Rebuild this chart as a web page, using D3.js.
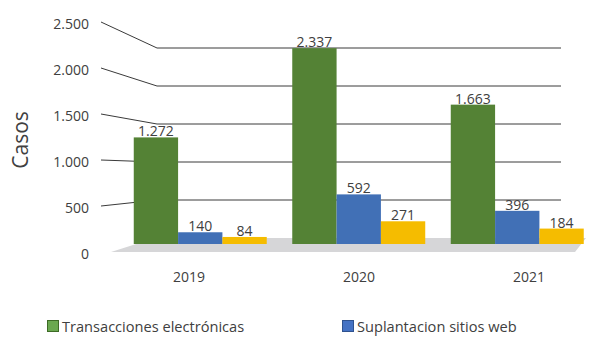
<!DOCTYPE html>
<html>
<head>
  <meta charset="utf-8">
  <script src="https://d3js.org/d3.v7.min.js"></script>
  <style>
    html, body {
      margin: 0px;
      padding: 0px;
      background: #fff;
      font-family: "Open Sans", "Noto Sans", Arial, sans-serif;
    }
    #chart {
      width: 604px;
      height: 350px;
      position: relative;
    }
    .tick, .dataLabel, .catLabel {
      font-size: 14px;
      fill: #404040;
    }
    .legendText {
      font-size: 14.6px;
      fill: #404040;
    }
    .axisTitle {
      font-size: 21px;
      fill: #404040;
    }
  </style>
</head>
<body>
  <div id="chart"></div>
  <script>
    /*
    DATA
    */
    const years = ["2019", "2020", "2021"];
    const seriesNames = ["Transacciones electrónicas", "Suplantacion sitios web", "Otros"];
    const transacciones = [1272, 2337, 1663];
    const suplantacion = [140, 592, 396];
    const otros = [84, 271, 184];
    const tickValues = [0, 500, 1000, 1500, 2000, 2500];
    const legendNames = ["Transacciones electrónicas", "Suplantacion sitios web"];

    const colors = ["#548235", "#4170b6", "#f5bc00"];
    const legendFill = ["#6aa84f", "#4472c4"];
    const legendStroke = ["#3d6b26", "#2f528f"];

    const width = 604;
    const height = 350;

    const svg = d3.select("#chart")
      .append("svg")
      .attr("width", width)
      .attr("height", height);

    /*
    SCALES
    front edge (left axis), back wall and the bars' middle plane
    */
    const yFront = d3.scaleLinear().domain([0, 2500]).range([254, 24]);
    const yBack = d3.scaleLinear().domain([0, 2500]).range([238, 48]);
    const yBar = d3.scaleLinear().domain([0, 2500]).range([244, 34.5]);

    const axisX = 101;     // front left edge
    const wallX = 157;     // back left corner
    const wallRight = 561; // end of back-wall gridlines

    const xCat = d3.scaleBand().domain(years).range([104, 614]);

    const xGroup = d3.scaleBand()
      .domain(years)
      .range([121, 596.5])
      .paddingInner(0.161)
      .paddingOuter(0.0805);

    const xSeries = d3.scaleBand()
      .domain(d3.range(3))
      .range([0, xGroup.bandwidth()]);

    /*
    GRIDLINES (diagonal side wall + back wall)
    */
    const grid = svg.append("g");
    grid.selectAll("path")
      .data(tickValues.filter(d => d > 0))
      .join("path")
        .attr("d", d => d3.line()([
          [axisX, yFront(d) - 2],
          [wallX, yBack(d)],
          [wallRight, yBack(d)]
        ]))
        .attr("fill", "none")
        .attr("stroke", "#3a3a3a")
        .attr("stroke-width", 1);

    /*
    FLOOR
    */
    const floorFront = yFront(0) - 2;
    const floorBack = yBack(0);
    svg.append("path")
      .attr("d", d3.line()([
        [111, floorFront],
        [575, floorFront],
        [586, floorBack],
        [155, floorBack]
      ]) + "Z")
      .attr("fill", "#d6d6d8");

    /*
    BARS
    */
    const rows = years.map((y, i) => ({
      year: y,
      values: [transacciones[i], suplantacion[i], otros[i]]
    }));

    const groups = svg.selectAll(".group")
      .data(rows)
      .join("g")
        .attr("class", "group")
        .attr("transform", d => `translate(${xGroup(d.year)},0)`);

    groups.selectAll("rect")
      .data(d => d.values)
      .join("rect")
        .attr("x", (d, i) => xSeries(i))
        .attr("y", d => yBar(d))
        .attr("width", xSeries.bandwidth())
        .attr("height", d => yBar(0) - yBar(d))
        .attr("fill", (d, i) => colors[i]);

    groups.selectAll(".dataLabel")
      .data(d => d.values)
      .join("text")
        .attr("class", "dataLabel")
        .attr("x", (d, i) => xSeries(i) + xSeries.bandwidth() / 2)
        .attr("y", d => yBar(d) - 1)
        .attr("text-anchor", "middle")
        .text(d => d3.format(",")(d).replace(/,/g, "."));

    /*
    AXIS LABELS
    */
    svg.selectAll(".tick")
      .data(tickValues)
      .join("text")
        .attr("class", "tick")
        .attr("x", 89)
        .attr("y", d => yFront(d))
        .attr("dy", "0.35em")
        .attr("text-anchor", "end")
        .text(d => d3.format(",")(d).replace(/,/g, "."));

    svg.selectAll(".catLabel")
      .data(years)
      .join("text")
        .attr("class", "catLabel")
        .attr("x", d => xCat(d) + xCat.bandwidth() / 2)
        .attr("y", 282)
        .attr("text-anchor", "middle")
        .text(d => d);

    svg.append("text")
      .attr("class", "axisTitle")
      .attr("transform", "rotate(-90)")
      .attr("x", -140)
      .attr("y", 28)
      .attr("text-anchor", "middle")
      .text("Casos");

    /*
    LEGEND
    */
    const legendX = [47, 342];
    const legend = svg.selectAll(".legend")
      .data(legendNames)
      .join("g")
        .attr("class", "legend")
        .attr("transform", (d, i) => `translate(${legendX[i]},320)`);

    legend.append("rect")
      .attr("x", 0.5)
      .attr("y", 0.5)
      .attr("width", 11)
      .attr("height", 11)
      .attr("fill", (d, i) => legendFill[i])
      .attr("stroke", (d, i) => legendStroke[i]);

    legend.append("text")
      .attr("class", "legendText")
      .attr("x", 15)
      .attr("y", 12)
      .text(d => d);
  </script>
</body>
</html>
